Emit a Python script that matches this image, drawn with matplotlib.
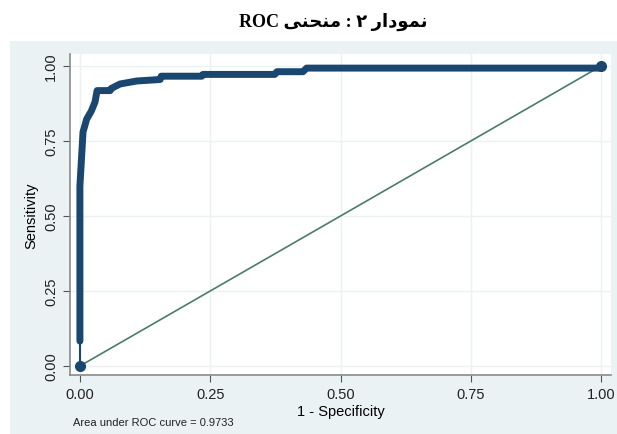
import matplotlib
matplotlib.use('Agg')
import matplotlib.pyplot as plt
from matplotlib.patches import Rectangle

# ROC points
fpr = [0, 0, 0, 0.003, 0.006, 0.013, 0.022, 0.029, 0.033, 0.058, 0.060, 0.077,
       0.109, 0.154, 0.156, 0.234, 0.236, 0.374, 0.378, 0.428, 0.435, 0.998, 1.0]
tpr = [0, 0.083, 0.60, 0.69, 0.78, 0.823, 0.85, 0.88, 0.918, 0.918, 0.925, 0.94,
       0.95, 0.955, 0.966, 0.966, 0.972, 0.972, 0.981, 0.981, 0.993, 0.993, 1.0]
ticks = [0.00, 0.25, 0.50, 0.75, 1.00]
auc = 0.9733

# title in visual order (presentation forms, matplotlib does no shaping)
title = ("ROC " + "\uFEF0\uFEE8\uFEA4\uFEE8\uFEE3" + " : " + "\u06F2" + " "
         + "\uFEAD\uFE8D\uFEA9\uFEEE\uFEE4\uFEE7")

plt.rcParams['font.family'] = ['Liberation Sans', 'DejaVu Sans']
navy = '#1a476f'
bg = '#eaf2f3'

fig = plt.figure(figsize=(6.17, 4.35), dpi=100, facecolor='white')
fig.patches.append(Rectangle((10/617, 0), 1, 1 - 42/435, transform=fig.transFigure,
                             facecolor=bg, edgecolor='none', zorder=-1))
ax = fig.add_axes([70/617, 1 - 376/435, 541/617, 321/435])
ax.set_facecolor('white')

ax.plot([0, 1], [0, 1], color='#4a7c66', lw=1.2, zorder=2)
ax.plot(fpr[:2], tpr[:2], color=navy, lw=1.5, zorder=3)
ax.plot(fpr[1:], tpr[1:], color=navy, lw=5, solid_joinstyle='round',
        solid_capstyle='round', zorder=3)
ax.plot([fpr[0], fpr[-1]], [tpr[0], tpr[-1]], 'o', color=navy, ms=7, zorder=4)

ax.set_xlim(-0.019, 1.019)
ax.set_ylim(-0.03, 1.04)
ax.set_xticks(ticks)
ax.set_yticks(ticks)
ax.set_xticklabels(['%.2f' % t for t in ticks])
ax.set_yticklabels(['%.2f' % t for t in ticks], rotation=90, va='center')
ax.grid(True, color=bg, lw=1)
ax.set_axisbelow(True)
for s in ['top', 'right']:
    ax.spines[s].set_visible(False)
for s in ['left', 'bottom']:
    ax.spines[s].set_color('#8a8a8a')
    ax.spines[s].set_linewidth(1.2)
ax.tick_params(colors='#555555', labelcolor='#222222', labelsize=10.5, length=5,
               direction='out')
ax.set_xlabel('1 - Specificity', fontsize=10.5, labelpad=2)
ax.set_ylabel('Sensitivity', fontsize=10.5, labelpad=4)

fig.text(0.54, 1 - 22/435, title, ha='center', va='center', fontsize=13,
         fontweight='bold', family=['Liberation Serif', 'DejaVu Sans'])
fig.text(73/617, 1 - 423/435, 'Area under ROC curve = %.4f' % auc, fontsize=8,
         va='center', color='#222222')

fig.savefig('out.png', dpi=100)
